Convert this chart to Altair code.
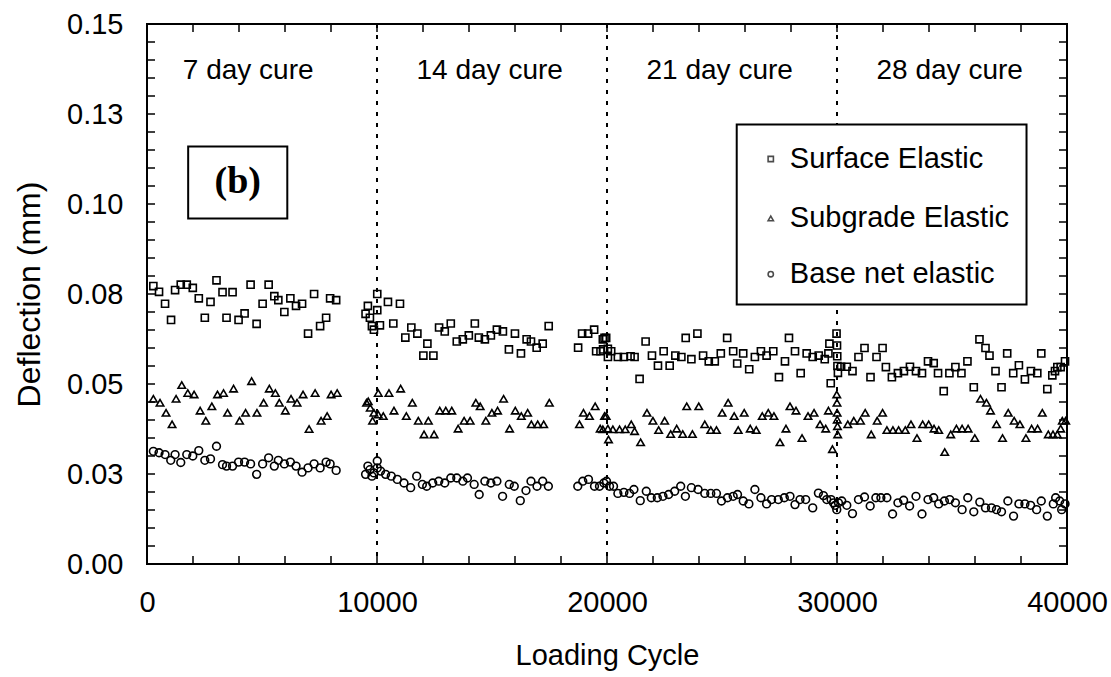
import json
import altair as alt
import pandas as pd

# ---------------- data ----------------
surface_cycle = [276, 523, 785, 1046, 1221, 1468, 1729, 1991, 2252, 2514, 2761, 3022, 3284, 3458, 3720, 3981,
                 4243, 4504, 4766, 5027, 5289, 5536, 5710, 5972, 6233, 6480, 6742, 7003, 7265, 7527, 7788, 7962, 8224,
                 9503, 9604, 9692, 9779, 9866, 10011, 10011, 10127, 10476, 10709, 10999, 11232, 11493, 11755, 12016,
                 12191, 12452, 12699, 12946, 13208, 13469, 13731, 13992, 14254, 14428, 14690, 14951, 15213, 15474,
                 15736, 15998, 16259, 16506, 16695, 16942, 17204, 17465,
                 18744, 18918, 19180, 19441, 19528, 19717, 19819, 19830, 19892, 19964, 20037, 20040, 20182, 20473,
                 20734, 21025, 21199, 21417, 21679, 21955, 22216, 22463, 22725, 22972, 23233, 23422, 23669, 23931,
                 24178, 24425, 24686, 24948, 25224, 25486, 25660, 25922, 26183, 26430, 26692, 26939, 27229, 27476,
                 27738, 27912, 28174, 28421, 28682, 28944, 29205, 29467, 29627, 29670, 29728,
                 29980, 30000, 30010, 30020, 30040, 30179, 30426, 30673, 30934, 31196, 31457, 31719, 31981, 32126,
                 32387, 32649, 32910, 33172, 33434, 33695, 33957, 34204, 34393, 34640, 34887, 35148, 35410, 35671,
                 35947, 36194, 36456, 36630, 36892, 37153, 37400, 37662, 37909, 38170, 38432, 38708, 38882, 39144,
                 39362, 39478, 39580, 39725, 39914]
surface_defl = [0.0772, 0.0756, 0.0723, 0.0678, 0.0761, 0.0776, 0.0776, 0.0767, 0.0738, 0.0684, 0.0728, 0.0788,
                0.0755, 0.0684, 0.0755, 0.0678, 0.0696, 0.0776, 0.0667, 0.0723, 0.0776, 0.0744, 0.0733, 0.0700,
                0.0738, 0.0717, 0.0723, 0.0640, 0.0750, 0.0661, 0.0684, 0.0738, 0.0733,
                0.0695, 0.0717, 0.0684, 0.0661, 0.0651, 0.0750, 0.0705, 0.0663, 0.0728, 0.0668, 0.0723, 0.0629,
                0.0657, 0.0640, 0.0579, 0.0612, 0.0579, 0.0657, 0.0646, 0.0668, 0.0618, 0.0624, 0.0635, 0.0668,
                0.0629, 0.0624, 0.0635, 0.0651, 0.0646, 0.0596, 0.0640, 0.0585, 0.0624, 0.0618, 0.0601, 0.0612,
                0.0661,
                0.0601, 0.0640, 0.0640, 0.0651, 0.0591, 0.0591, 0.0624, 0.0596, 0.0628, 0.0628, 0.0598, 0.0575,
                0.0591, 0.0575, 0.0575, 0.0577, 0.0575, 0.0514, 0.0618, 0.0579, 0.0551, 0.0591, 0.0551, 0.0579,
                0.0575, 0.0628, 0.0569, 0.0640, 0.0579, 0.0563, 0.0563, 0.0585, 0.0628, 0.0591, 0.0557, 0.0585,
                0.0541, 0.0575, 0.0591, 0.0579, 0.0591, 0.0519, 0.0563, 0.0628, 0.0591, 0.0530, 0.0585, 0.0575,
                0.0579, 0.0569, 0.0585, 0.0612, 0.0502,
                0.0640, 0.0607, 0.0577, 0.0550, 0.0531, 0.0548, 0.0548, 0.0536, 0.0575, 0.0600, 0.0519, 0.0575,
                0.0600, 0.0547, 0.0519, 0.0530, 0.0536, 0.0548, 0.0536, 0.0530, 0.0563, 0.0558, 0.0530, 0.0480,
                0.0530, 0.0547, 0.0530, 0.0563, 0.0491, 0.0624, 0.0600, 0.0579, 0.0536, 0.0491, 0.0585, 0.0530,
                0.0552, 0.0513, 0.0536, 0.0530, 0.0585, 0.0486, 0.0524, 0.0536, 0.0547, 0.0547, 0.0563]

subgrade_cycle = [276, 567, 828, 1090, 1264, 1511, 1773, 2049, 2310, 2557, 2819, 3066, 3327, 3502, 3763, 4025,
                  4286, 4548, 4780, 5071, 5318, 5580, 5754, 6015, 6262, 6524, 6786, 7047, 7309, 7570, 7832, 8006, 8268,
                  9546, 9619, 9706, 9808, 9866, 10055, 10055, 10273, 10520, 10738, 11028, 11275, 11537, 11798, 12045,
                  12234, 12481, 12728, 12990, 13251, 13527, 13789, 14051, 14298, 14486, 14733, 14995, 15242, 15504,
                  15765, 16012, 16274, 16550, 16710, 16986, 17247, 17494,
                  18802, 18976, 19238, 19485, 19703, 19819, 19892, 19964, 20037, 20066, 20255, 20545, 20792, 21054,
                  21199, 21461, 21737, 21998, 22245, 22507, 22769, 23030, 23292, 23466, 23713, 23989, 24251, 24512,
                  24759, 25006, 25268, 25529, 25704, 25965, 26227, 26488, 26750, 27011, 27258, 27520, 27781, 27956,
                  28217, 28479, 28740, 29002, 29263, 29510, 29627, 29801,
                  29990, 30000, 30005, 30010, 30020, 30030,
                  30469, 30731, 31022, 31225, 31487, 31748, 31981, 32169, 32431, 32678, 32969, 33216, 33477, 33724,
                  33986, 34218, 34422, 34683, 34945, 35192, 35439, 35700, 35991, 36238, 36499, 36674, 36935, 37197,
                  37444, 37705, 37952, 38214, 38461, 38722, 38926, 39187, 39391, 39580, 39725, 39798, 39943]
subgrade_defl = [0.0459, 0.0448, 0.0420, 0.0388, 0.0459, 0.0497, 0.0475, 0.0471, 0.0426, 0.0398, 0.0438, 0.0471,
                 0.0475, 0.0420, 0.0487, 0.0398, 0.0420, 0.0508, 0.0420, 0.0448, 0.0487, 0.0475, 0.0448, 0.0426,
                 0.0459, 0.0448, 0.0471, 0.0375, 0.0475, 0.0398, 0.0411, 0.0471, 0.0475,
                 0.0448, 0.0452, 0.0434, 0.0398, 0.0420, 0.0475, 0.0415, 0.0411, 0.0475, 0.0426, 0.0487, 0.0411,
                 0.0448, 0.0398, 0.0360, 0.0398, 0.0360, 0.0426, 0.0426, 0.0426, 0.0376, 0.0398, 0.0398, 0.0448,
                 0.0438, 0.0398, 0.0420, 0.0426, 0.0459, 0.0376, 0.0426, 0.0411, 0.0420, 0.0388, 0.0388, 0.0388,
                 0.0448,
                 0.0388, 0.0420, 0.0411, 0.0438, 0.0376, 0.0374, 0.0411, 0.0411, 0.0376, 0.0346, 0.0374, 0.0374,
                 0.0374, 0.0388, 0.0369, 0.0338, 0.0420, 0.0398, 0.0372, 0.0398, 0.0361, 0.0376, 0.0361, 0.0438,
                 0.0361, 0.0438, 0.0388, 0.0372, 0.0372, 0.0420, 0.0448, 0.0411, 0.0372, 0.0420, 0.0376, 0.0372,
                 0.0411, 0.0420, 0.0411, 0.0338, 0.0376, 0.0438, 0.0426, 0.0350, 0.0411, 0.0420, 0.0388, 0.0376,
                 0.0426, 0.0319,
                 0.0471, 0.0448, 0.0420, 0.0401, 0.0383, 0.0360,
                 0.0388, 0.0398, 0.0398, 0.0420, 0.0360, 0.0398, 0.0420, 0.0372, 0.0372, 0.0372, 0.0372, 0.0388,
                 0.0350, 0.0388, 0.0388, 0.0376, 0.0372, 0.0311, 0.0360, 0.0376, 0.0376, 0.0376, 0.0350, 0.0459,
                 0.0448, 0.0426, 0.0388, 0.0350, 0.0420, 0.0398, 0.0388, 0.0350, 0.0376, 0.0376, 0.0420, 0.0360,
                 0.0360, 0.0360, 0.0376, 0.0398, 0.0398]

base_cycle = [276, 523, 785, 1032, 1221, 1468, 1729, 1991, 2252, 2514, 2761, 3022, 3284, 3458, 3720, 3981,
              4243, 4504, 4766, 5027, 5289, 5536, 5710, 5972, 6233, 6480, 6742, 7003, 7265, 7527, 7788, 7962, 8224,
              9503, 9604, 9692, 9779, 9866, 10011, 10011, 10156, 10374, 10621, 10883, 11174, 11464, 11726, 11973,
              12162, 12423, 12685, 12946, 13208, 13469, 13731, 13934, 14225, 14443, 14690, 14951, 15213, 15460,
              15751, 15968, 16230, 16477, 16695, 16957, 17204, 17451,
              18729, 18947, 19194, 19456, 19674, 19863, 19979, 20110, 20284, 20473, 20734, 20981, 21170, 21446,
              21708, 21926, 22187, 22434, 22681, 22943, 23204, 23408, 23669, 23960, 24251, 24512, 24759, 24977,
              25239, 25486, 25675, 25922, 26169, 26430, 26692, 26939, 27157, 27447, 27709, 27956,
              28174, 28392, 28639, 28944, 29191, 29409, 29554, 29743, 29845, 29917, 29990, 30063, 30208, 30426,
              30673, 30934, 31196, 31443, 31690, 31908, 32169, 32416, 32649, 32896, 33157, 33434, 33695, 33957,
              34204, 34422, 34669, 34901, 35148, 35439, 35686, 35947, 36209, 36456, 36717, 36935, 37153, 37429,
              37676, 37909, 38170, 38417, 38679, 38882, 39144, 39405, 39507, 39681, 39769, 39914]
base_defl = [0.0313, 0.0309, 0.0304, 0.0288, 0.0304, 0.0282, 0.0304, 0.0300, 0.0315, 0.0288, 0.0292, 0.0327,
             0.0276, 0.0272, 0.0272, 0.0283, 0.0283, 0.0278, 0.0249, 0.0278, 0.0295, 0.0272, 0.0288, 0.0278,
             0.0283, 0.0272, 0.0255, 0.0267, 0.0278, 0.0267, 0.0283, 0.0278, 0.0260,
             0.0249, 0.0272, 0.0262, 0.0244, 0.0253, 0.0286, 0.0267, 0.0258, 0.0249, 0.0244, 0.0235, 0.0225,
             0.0212, 0.0244, 0.0221, 0.0216, 0.0225, 0.0230, 0.0225, 0.0239, 0.0239, 0.0230, 0.0239, 0.0221,
             0.0193, 0.0230, 0.0225, 0.0230, 0.0188, 0.0221, 0.0216, 0.0176, 0.0204, 0.0230, 0.0216, 0.0230,
             0.0216,
             0.0216, 0.0230, 0.0235, 0.0216, 0.0216, 0.0225, 0.0230, 0.0216, 0.0216, 0.0196, 0.0199, 0.0196,
             0.0207, 0.0176, 0.0202, 0.0184, 0.0184, 0.0188, 0.0193, 0.0202, 0.0216, 0.0188, 0.0212, 0.0207,
             0.0196, 0.0196, 0.0196, 0.0175, 0.0184, 0.0188, 0.0193, 0.0175, 0.0167, 0.0207, 0.0184, 0.0167,
             0.0179, 0.0179, 0.0184, 0.0188,
             0.0165, 0.0179, 0.0179, 0.0156, 0.0197, 0.0190, 0.0179, 0.0179, 0.0170, 0.0163, 0.0151, 0.0170,
             0.0175, 0.0163, 0.0140, 0.0179, 0.0186, 0.0161, 0.0184, 0.0184, 0.0184, 0.0139, 0.0170, 0.0177,
             0.0161, 0.0188, 0.0139, 0.0179, 0.0184, 0.0167, 0.0175, 0.0179, 0.0170, 0.0151, 0.0184, 0.0145,
             0.0172, 0.0156, 0.0156, 0.0151, 0.0145, 0.0175, 0.0133, 0.0167, 0.0167, 0.0163, 0.0151, 0.0175,
             0.0133, 0.0167, 0.0184, 0.0175, 0.0151, 0.0167]

series_names = ["Surface Elastic", "Subgrade Elastic", "Base net elastic"]
series_shapes = ["square", "triangle-up", "circle"]
series_sizes = [50, 60, 44]

cure_boundaries = [10000, 20000, 30000]
cure_labels = ["7 day cure", "14 day cure", "21 day cure", "28 day cure"]
cure_label_x = [4400, 14900, 24900, 34900]
cure_label_y = 0.137

x_tick_values = [0, 10000, 20000, 30000, 40000]
x_minor_ticks = list(range(0, 40001, 2000))
y_tick_values = [0, 0.025, 0.05, 0.075, 0.10, 0.125, 0.15]
y_tick_labels = ["0.00", "0.03", "0.05", "0.08", "0.10", "0.13", "0.15"]
y_minor_ticks = [round(i * 0.005, 3) for i in range(0, 31)]

panel_label = "(b)"
panel_box = {"x": 1790, "x2": 6100, "y": 0.1160, "y2": 0.0960}
panel_text = {"x": 3946, "y": 0.1060}

# legend box placed in data coordinates (inside the plot, upper right)
legend_box = {"x": 25640, "x2": 38240, "y": 0.1221, "y2": 0.0721}
legend_symbol_x = 27120
legend_text_x = 27950
legend_entry_y = [0.1125, 0.0960, 0.0805]

W, H = 920, 540
FONT = "Liberation Sans"

# ---------------- tables ----------------
rows = []
for name, cyc, dfl in zip(series_names, [surface_cycle, subgrade_cycle, base_cycle],
                          [surface_defl, subgrade_defl, base_defl]):
    for c, d in zip(cyc, dfl):
        rows.append({"cycle": c, "defl": d, "series": name})
points_df = pd.DataFrame(rows)

legend_df = pd.DataFrame({"series": series_names, "y": legend_entry_y,
                          "xs": [legend_symbol_x] * 3, "xt": [legend_text_x] * 3})

xscale = alt.Scale(domain=[0, 40000], nice=False, zero=False)
yscale = alt.Scale(domain=[0, 0.15], nice=False, zero=False)
shape_scale = alt.Scale(domain=series_names, range=series_shapes)

label_expr = json.dumps(y_tick_labels) + "[round(datum.value / 0.025)]"

x_axis = alt.Axis(values=x_tick_values, format="d", title="Loading Cycle", grid=False, ticks=False,
                  domain=False, labelFontSize=29, titleFontSize=29, labelFont=FONT, titleFont=FONT,
                  titleFontWeight="normal", labelColor="black", titleColor="black", labelPadding=24,
                  titlePadding=24, labelFlush=False, labelOverlap=False, labelBound=False)
y_axis = alt.Axis(values=y_tick_values, labelExpr=label_expr, title="Deflection (mm)", grid=False,
                  ticks=False, domain=False, labelFontSize=29, titleFontSize=32, labelFont=FONT,
                  titleFont=FONT, titleFontWeight="normal", labelColor="black", titleColor="black",
                  labelPadding=24, titlePadding=20, labelFlush=False, labelOverlap=False, labelBound=False)

pts = alt.Chart(points_df).mark_point(filled=False, strokeWidth=1.6, color="black", opacity=1).encode(
    x=alt.X("cycle:Q", scale=xscale, axis=x_axis),
    y=alt.Y("defl:Q", scale=yscale, axis=y_axis),
    shape=alt.Shape("series:N", scale=shape_scale, legend=None),
    size=alt.Size("series:N", scale=alt.Scale(domain=series_names, range=series_sizes), legend=None),
)

bounds = alt.Chart(pd.DataFrame({"x": cure_boundaries})).mark_rule(
    color="black", strokeWidth=2, strokeDash=[4, 7]).encode(x=alt.X("x:Q", scale=xscale))

xt = pd.DataFrame({"x": x_minor_ticks})
yt = pd.DataFrame({"y": y_minor_ticks})
tick_style = dict(color="black", strokeWidth=1.5)
xt_bottom = alt.Chart(xt).mark_rule(**tick_style).encode(
    x=alt.X("x:Q", scale=xscale), y=alt.value(H), y2=alt.value(H - 8))
xt_top = alt.Chart(xt).mark_rule(**tick_style).encode(
    x=alt.X("x:Q", scale=xscale), y=alt.value(0), y2=alt.value(8))
yt_left = alt.Chart(yt).mark_rule(**tick_style).encode(
    y=alt.Y("y:Q", scale=yscale), x=alt.value(0), x2=alt.value(8))
yt_right = alt.Chart(yt).mark_rule(**tick_style).encode(
    y=alt.Y("y:Q", scale=yscale), x=alt.value(W - 8), x2=alt.value(W))

cure_txt = alt.Chart(pd.DataFrame({"x": cure_label_x, "label": cure_labels, "y": [cure_label_y] * 4})).mark_text(
    fontSize=28, font=FONT, color="black", align="center", baseline="middle").encode(
    x=alt.X("x:Q", scale=xscale), y=alt.Y("y:Q", scale=yscale), text="label:N")

box = alt.Chart(pd.DataFrame([panel_box])).mark_rect(fill="white", stroke="black", strokeWidth=2).encode(
    x=alt.X("x:Q", scale=xscale), x2="x2:Q", y=alt.Y("y:Q", scale=yscale), y2="y2:Q")
box_txt = alt.Chart(pd.DataFrame([{**panel_text, "label": panel_label}])).mark_text(
    fontSize=38, font="Liberation Serif", fontWeight="bold", color="black", align="center",
    baseline="middle").encode(x=alt.X("x:Q", scale=xscale), y=alt.Y("y:Q", scale=yscale), text="label:N")

# legend drawn as marks
leg_box = alt.Chart(pd.DataFrame([legend_box])).mark_rect(fill="white", stroke="black", strokeWidth=2).encode(
    x=alt.X("x:Q", scale=xscale), x2="x2:Q", y=alt.Y("y:Q", scale=yscale), y2="y2:Q")
leg_sym = alt.Chart(legend_df).mark_point(filled=False, strokeWidth=1.6, color="black", size=28).encode(
    x=alt.X("xs:Q", scale=xscale), y=alt.Y("y:Q", scale=yscale),
    shape=alt.Shape("series:N", scale=shape_scale, legend=None))
leg_txt = alt.Chart(legend_df).mark_text(fontSize=29, font=FONT, color="black", align="left",
                                         baseline="middle").encode(
    x=alt.X("xt:Q", scale=xscale), y=alt.Y("y:Q", scale=yscale), text="series:N")

chart = alt.layer(bounds, xt_bottom, xt_top, yt_left, yt_right, pts, cure_txt, box, box_txt,
                  leg_box, leg_sym, leg_txt).properties(
    width=W, height=H, autosize=alt.AutoSizeParams(type="none"),
    padding={"left": 147, "top": 24, "right": 44, "bottom": 113},
    background="white",
).configure_view(stroke="black", strokeWidth=2)

chart.save("out.html", embed_options={"renderer": "svg", "actions": False})
